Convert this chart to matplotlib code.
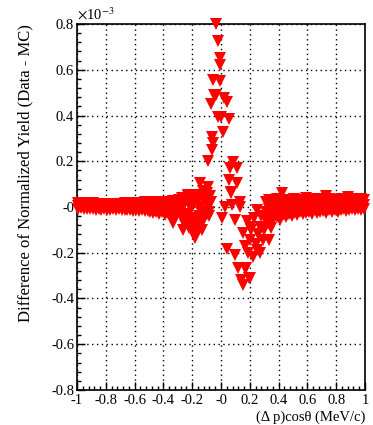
import matplotlib
matplotlib.use("Agg")
import matplotlib.pyplot as plt
from matplotlib.ticker import FixedLocator, FixedFormatter, MultipleLocator

plt.rcParams["font.family"] = ["Liberation Serif", "DejaVu Serif"]
plt.rcParams["mathtext.fontset"] = "stix"

# y values are in units of 1e-3

# left flat band (three rows of markers per bin)
band_l_x = [-0.99, -0.97, -0.95, -0.93, -0.91, -0.89, -0.87, -0.85, -0.83, -0.81,
            -0.79, -0.77, -0.75, -0.73, -0.71, -0.69, -0.67, -0.65, -0.63, -0.61,
            -0.59, -0.57, -0.55, -0.53, -0.51, -0.49, -0.47, -0.45, -0.43, -0.41,
            -0.39, -0.37, -0.35, -0.33, -0.31]
band_l_hi = [0.016, 0.018, 0.015, 0.017, 0.014, 0.016, 0.013, 0.012, 0.011, 0.010,
             0.012, 0.010, 0.011, 0.013, 0.012, 0.014, 0.016, 0.015, 0.017, 0.016,
             0.018, 0.017, 0.019, 0.020, 0.018, 0.021, 0.019, 0.022, 0.020, 0.023,
             0.021, 0.024, 0.020, 0.026, 0.022]
band_l_mid = [0.004, 0.006, 0.003, 0.005, 0.002, 0.004, 0.001, 0.002, 0.000, 0.001,
              0.000, -0.001, 0.001, 0.000, 0.002, 0.001, 0.003, 0.002, 0.001, 0.000,
              0.002, 0.000, 0.002, 0.001, 0.000, -0.002, -0.004, 0.000, -0.006, -0.002,
              -0.008, -0.004, -0.010, -0.006, -0.012]
band_l_lo = [-0.008, -0.006, -0.009, -0.007, -0.010, -0.008, -0.011, -0.009, -0.012, -0.010,
             -0.011, -0.013, -0.010, -0.012, -0.009, -0.011, -0.013, -0.012, -0.014, -0.016,
             -0.013, -0.017, -0.015, -0.019, -0.016, -0.022, -0.026, -0.020, -0.030, -0.024,
             -0.033, -0.028, -0.036, -0.030, -0.040]

# right flat band
band_r_x = [0.31, 0.33, 0.35, 0.37, 0.39, 0.41, 0.43, 0.45, 0.47, 0.49,
            0.51, 0.53, 0.55, 0.57, 0.59, 0.61, 0.63, 0.65, 0.67, 0.69,
            0.71, 0.73, 0.75, 0.77, 0.79, 0.81, 0.83, 0.85, 0.87, 0.89,
            0.91, 0.93, 0.95, 0.97, 0.99]
band_r_hi = [0.020, 0.030, 0.015, 0.025, 0.035, 0.020, 0.030, 0.025, 0.030, 0.020,
             0.035, 0.025, 0.030, 0.020, 0.040, 0.025, 0.030, 0.020, 0.035, 0.025,
             0.030, 0.020, 0.035, 0.028, 0.030, 0.022, 0.035, 0.025, 0.030, 0.020,
             0.035, 0.030, 0.025, 0.035, 0.030]
band_r_mid = [-0.020, -0.010, -0.028, -0.012, -0.005, -0.018, -0.002, -0.010, 0.000, -0.008,
              0.004, -0.005, 0.005, -0.004, 0.006, 0.002, 0.000, 0.004, 0.005, 0.002,
              0.006, 0.000, 0.008, 0.004, 0.008, 0.002, 0.010, 0.006, 0.006, 0.004,
              0.012, 0.008, 0.008, 0.012, 0.010]
band_r_lo = [-0.060, -0.045, -0.070, -0.050, -0.040, -0.055, -0.035, -0.045, -0.030, -0.040,
             -0.025, -0.035, -0.020, -0.030, -0.025, -0.020, -0.030, -0.015, -0.025, -0.020,
             -0.018, -0.025, -0.015, -0.020, -0.012, -0.020, -0.015, -0.010, -0.018, -0.012,
             -0.010, -0.015, -0.008, -0.012, -0.010]

# scattered points around the centre
core_x = [-0.332, -0.29, -0.29, -0.27, -0.27, -0.263, -0.25, -0.25, -0.23, -0.23,
          -0.228, -0.216, -0.21, -0.20, -0.20, -0.19, -0.181, -0.18, -0.17, -0.16,
          -0.151, -0.146, -0.14, -0.134, -0.12, -0.111, -0.10, -0.10, -0.09, -0.088,
          -0.08, -0.07,
          -0.28, -0.26, -0.24, -0.22, -0.22, -0.20, -0.19, -0.17, -0.165, -0.155,
          -0.145, -0.13, -0.125, -0.115, -0.105, -0.095, -0.085, -0.075,
          -0.035, -0.019, -0.007, -0.010, -0.058, -0.007, -0.047, -0.035, 0.021, 0.040,
          -0.072, -0.020, 0.000, 0.056, 0.016, -0.065, -0.054, -0.065, -0.088, 0.081,
          0.063, 0.114, 0.056, 0.114, 0.068, 0.075, 0.132, 0.030,
          0.005, 0.040, 0.098, 0.098, 0.121, 0.174, 0.137, 0.151, 0.197, 0.155,
          0.202, 0.225, 0.249, 0.202, 0.272, 0.295, 0.330, 0.249, 0.341, 0.388,
          0.070, 0.132, 0.18, 0.21, 0.23, 0.26, 0.28, 0.30, 0.32, 0.35,
          0.37, 0.24, 0.19, 0.17, 0.27, 0.167, 0.20, 0.423, 0.73, 0.885]
core_y = [-0.071, 0.030, -0.020, 0.040, -0.050, -0.100, 0.020, -0.080, 0.050, -0.030,
          0.052, 0.052, -0.060, 0.000, -0.100, 0.030, -0.137, -0.050, 0.020, -0.080,
          0.052, 0.103, -0.020, -0.071, 0.030, 0.052, 0.060, -0.030, 0.000, 0.089,
          -0.040, 0.020,
          0.000, -0.030, -0.060, 0.010, -0.090, 0.040, -0.070, -0.110, 0.040, -0.040,
          0.000, -0.100, 0.070, -0.050, 0.010, 0.040, -0.020, 0.050,
          0.800, 0.725, 0.650, 0.620, 0.555, 0.550, 0.490, 0.490, 0.475, 0.460,
          0.450, 0.395, 0.395, 0.385, 0.326, 0.307, 0.278, 0.249, 0.200, 0.198,
          0.169, 0.169, 0.118, 0.103, 0.067, 0.009, 0.001, 0.000,
          -0.049, -0.185, -0.210, -0.057, -0.268, -0.268, -0.319, -0.341, -0.311, -0.115,
          -0.144, -0.217, -0.188, -0.086, -0.086, -0.144, -0.144, -0.013, 0.016, -0.042,
          0.060, 0.020, -0.060, -0.100, -0.050, -0.120, -0.040, -0.100, -0.060, -0.090,
          -0.030, -0.160, -0.200, -0.170, -0.200, -0.266, -0.310, 0.060, 0.050, 0.045]

x_ticks = [-1, -0.8, -0.6, -0.4, -0.2, 0, 0.2, 0.4, 0.6, 0.8, 1]
x_ticklabels = ["-1", "-0.8", "-0.6", "-0.4", "-0.2", "-0", "0.2", "0.4", "0.6", "0.8", "1"]
y_ticks = [-0.8, -0.6, -0.4, -0.2, 0, 0.2, 0.4, 0.6, 0.8]
y_ticklabels = ["-0.8", "-0.6", "-0.4", "-0.2", "-0", "0.2", "0.4", "0.6", "0.8"]

fig = plt.figure(figsize=(3.73, 4.25), dpi=100)
ax = fig.add_axes([0.2064, 0.0824, 0.7722, 0.8611])

mk = dict(linestyle="none", marker="v", color="#ff0000", markersize=8.6,
          markeredgewidth=0, clip_on=False, zorder=3)
ax.plot(band_l_x, band_l_hi, **mk)
ax.plot(band_l_x, band_l_mid, **mk)
ax.plot(band_l_x, band_l_lo, **mk)
ax.plot(band_r_x, band_r_hi, **mk)
ax.plot(band_r_x, band_r_mid, **mk)
ax.plot(band_r_x, band_r_lo, **mk)
ax.plot(core_x, core_y, **mk)

ax.set_xlim(-1, 1)
ax.set_ylim(-0.8, 0.8)

ax.xaxis.set_major_locator(FixedLocator(x_ticks))
ax.xaxis.set_major_formatter(FixedFormatter(x_ticklabels))
ax.yaxis.set_major_locator(FixedLocator(y_ticks))
ax.yaxis.set_major_formatter(FixedFormatter(y_ticklabels))
ax.xaxis.set_minor_locator(MultipleLocator(0.04))
ax.yaxis.set_minor_locator(MultipleLocator(0.04))

ax.tick_params(which="both", direction="in", top=False, right=False,
               labelsize=10.5, width=1.0, color="black")
ax.tick_params(which="major", length=6)
ax.tick_params(which="minor", length=3)
ax.tick_params(axis="y", pad=2)
ax.tick_params(axis="x", pad=3)

ax.grid(True, which="major", color="black", linestyle=(0, (1, 2.5)), linewidth=1.0)
ax.set_axisbelow(True)
for sp in ax.spines.values():
    sp.set_linewidth(1.2)

ax.set_ylabel("Difference of Normalized Yield (Data - MC)", fontsize=12, loc="top")
ax.yaxis.set_label_coords(-0.15, 1.0)
ax.set_xlabel("(\u0394 p)cos\u03b8 (MeV/c)", fontsize=10.5, loc="right")
ax.xaxis.set_label_coords(1.0, -0.055)

ax.text(0.0, 1.005, r"$\times$10$^{-3}$", transform=ax.transAxes,
        fontsize=10.5, ha="left", va="bottom")

fig.savefig("out.png", dpi=100)
